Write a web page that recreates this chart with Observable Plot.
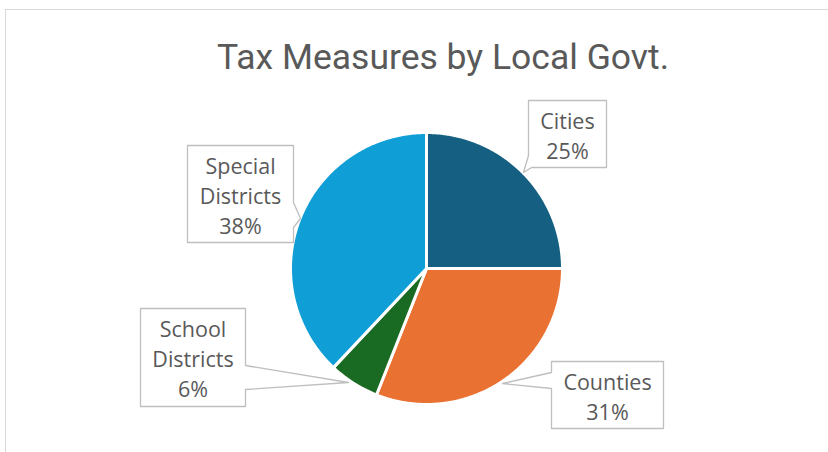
<!DOCTYPE html>
<html>
<head>
<meta charset="utf-8">
<script src="https://cdn.jsdelivr.net/npm/d3@7"></script>
<script src="https://cdn.jsdelivr.net/npm/@observablehq/plot@0.6"></script>
<style>
  html, body { margin: 0; padding: 0; background: #fff; }
  #wrap { position: relative; width: 828px; height: 452px; overflow: hidden; }
  #frame { position: absolute; left: 5px; top: 9px; width: 900px; height: 500px; border: 1px solid #d9d9d9; box-sizing: border-box; }
  #title { position: absolute; left: 0; width: 886px; top: 36px; text-align: center; font-family: Roboto, sans-serif; font-size: 35.5px; color: #595959; white-space: nowrap; }
  #chart { position: absolute; left: 0; top: 0; }
</style>
</head>
<body>
<div id="wrap">
  <div id="frame"></div>
  <div id="chart"></div>
  <div id="title">Tax Measures by Local Govt.</div>
</div>
<script>
// ---- data ----
const categories = ["Cities", "Counties", "School Districts", "Special Districts"];
const values = [25, 31, 6, 38];
const labelLines = ["Cities", "Counties", "School\nDistricts", "Special\nDistricts"];
const colors = ["#156082", "#e97132", "#196b24", "#0f9ed5"];

// ---- layout (pixels) ----
const W = 828, H = 452;
const cx = 426, cy = 268, r = 136;
const callouts = {
  "Cities":            {box: [528, 100, 606, 167], shape: [[528,100],[606,100],[606,167],[531,167],[523,172],[528,155]]},
  "Counties":          {box: [551, 361, 663, 428], shape: [[551,361],[663,361],[663,428],[551,428],[551,388],[502,383],[551,372]]},
  "School Districts":  {box: [140, 308, 245, 406], shape: [[140,308],[245,308],[245,365],[348,382],[245,389],[245,406],[140,406]]},
  "Special Districts": {box: [187, 145, 293, 242], shape: [[187,145],[293,145],[293,202],[300,218],[293,227],[293,242],[187,242]]}
};

const total = d3.sum(values);
const table = categories.map((c, i) => ({name: c, value: values[i], label: labelLines[i] + "\n" + Math.round(values[i] / total * 100) + "%"}));
const arcs = d3.pie().sort(null).value(d => d.value)(table);

// slice outlines from pie angles
const slicePts = [];
for (const a of arcs) {
  slicePts.push({name: a.data.name, x: cx, y: cy});
  const n = Math.max(2, Math.ceil((a.endAngle - a.startAngle) / (Math.PI / 360)));
  for (let k = 0; k <= n; k++) {
    const t = a.startAngle + (a.endAngle - a.startAngle) * k / n;
    slicePts.push({name: a.data.name, x: cx + r * Math.sin(t), y: cy - r * Math.cos(t)});
  }
}

const calloutPts = [];
for (const d of table) for (const [x, y] of callouts[d.name].shape) calloutPts.push({name: d.name, x, y});
const labelPos = table.map(d => {
  const b = callouts[d.name].box;
  return {...d, x: (b[0] + b[2]) / 2, y: (b[1] + b[3]) / 2};
});

const chart = Plot.plot({
  width: W, height: H,
  margin: 0,
  x: {domain: [0, W], range: [0, W], axis: null},
  y: {domain: [0, H], range: [0, H], axis: null},
  color: {domain: categories, range: colors},
  style: {background: "transparent", overflow: "visible"},
  marks: [
    Plot.line(slicePts, {x: "x", y: "y", z: "name", fill: "name", stroke: "white", strokeWidth: 3, strokeLinejoin: "round", curve: "linear-closed"}),
    Plot.line(calloutPts, {x: "x", y: "y", z: "name", fill: "white", stroke: "#bfbfbf", strokeWidth: 1.3, curve: "linear-closed"}),
    Plot.text(labelPos, {x: "x", y: "y", text: "label", fontSize: 21.5, lineHeight: 1.4, fill: "#595959", fontFamily: "'Open Sans', sans-serif", textAnchor: "middle", lineAnchor: "middle"})
  ]
});
document.getElementById("chart").appendChild(chart);
</script>
</body>
</html>
